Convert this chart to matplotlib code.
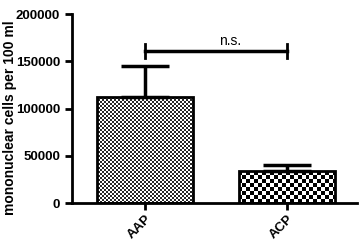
import numpy as np
import matplotlib
matplotlib.use("Agg")
import matplotlib.pyplot as plt

groups = ["AAP", "ACP"]
means = [112000, 34000]
errors = [33000, 6500]
yticks = [0, 50000, 100000, 150000, 200000]
sig_label = "n.s."
sig_height = 161000

plt.rcParams['font.family'] = ['Liberation Sans', 'DejaVu Sans']

fig = plt.figure(figsize=(3.59, 2.43), dpi=100)
ax = fig.add_axes([0.2006, 0.1646, 0.7934, 0.7776])

x = np.arange(len(groups))
bars = ax.bar(x, means, width=0.676, color='none', edgecolor='black', linewidth=2, zorder=3)
ax.errorbar(x, means, yerr=[np.zeros(len(errors)), errors], fmt='none',
            ecolor='black', elinewidth=2.5, capsize=17, capthick=2.5, zorder=2)

# checkerboard fill, clipped to each bar
def checker(cell, dark):
    w = int(285 / cell) + 1
    h = int(189 / cell) + 1
    board = (np.indices((h, w)).sum(axis=0) % 2).astype(float)
    return np.where(board > 0, 1.0, dark)

for b, cell, dark in zip(bars, [2, 4], [0.15, 0.0]):
    img = ax.imshow(checker(cell, dark), cmap='gray', vmin=0, vmax=1, interpolation='nearest',
                    extent=[0, 1, 0, 1], transform=ax.transAxes, aspect='auto', zorder=1)
    img.set_clip_path(b)

ax.set_xlim(-0.514, 1.493)
ax.set_ylim(0, 200000)
ax.set_yticks(yticks)
ax.set_yticklabels([str(t) for t in yticks], fontsize=9.5, fontweight='bold')
ax.set_xticks(x)
ax.set_xticklabels(groups, fontsize=9.5, fontweight='bold', rotation=45, ha='right',
                   rotation_mode='anchor')
fig.text(10 / 359, 0.515, "mononuclear cells per 100 ml", rotation=90,
         ha='center', va='center', fontsize=10, fontweight='bold')

for s in ['top', 'right']:
    ax.spines[s].set_visible(False)
for s in ['left', 'bottom']:
    ax.spines[s].set_linewidth(2)
ax.tick_params(width=2, length=5)
ax.tick_params(axis='x', pad=2)

# significance bracket
ax.plot([0, 1], [sig_height, sig_height], color='black', lw=2.5)
ax.plot([0, 0], [sig_height - 7000, sig_height + 7000], color='black', lw=2)
ax.plot([1, 1], [sig_height - 7000, sig_height + 7000], color='black', lw=2)
ax.text(0.6, sig_height + 3000, sig_label, ha='center', va='bottom', fontsize=10)

fig.savefig("out.png", dpi=100)
